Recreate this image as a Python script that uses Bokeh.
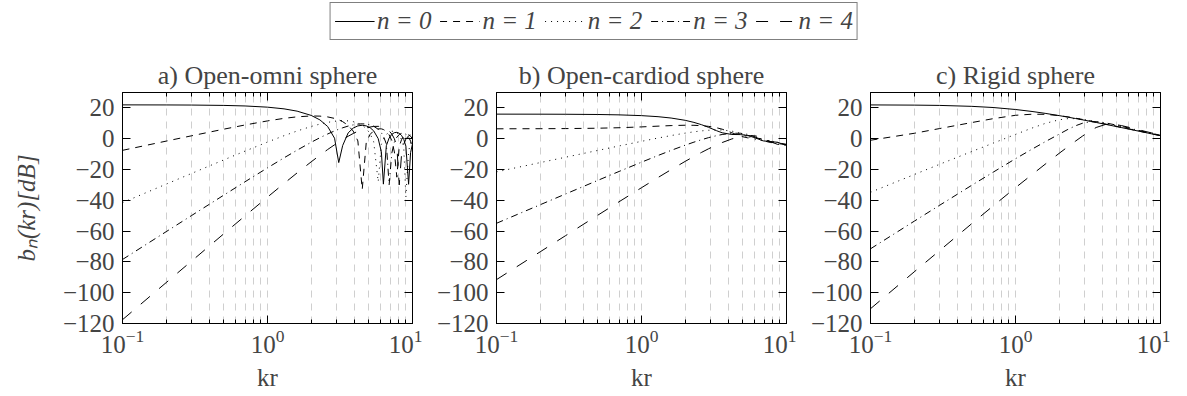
from bokeh.plotting import figure
from bokeh.models import LinearAxis, LogAxis, FixedTicker, Legend, LegendItem
from bokeh.layouts import column, row
from bokeh.embed import file_html
from bokeh.resources import INLINE

# ---------------- data ----------------
kr_a = [0.1, 0.2, 0.3, 0.5, 0.7, 1.0, 1.3, 1.6, 2.0, 2.3, 2.6, 2.9, 3.1, 3.3, 3.6, 3.9,
        4.2, 4.5, 4.8, 5.1, 5.4, 5.8, 6.1, 6.3, 6.6, 6.9, 7.2, 7.5, 7.8, 8.1, 8.4, 8.7,
        9.0, 9.4, 9.7, 10.0]
a_n0 = [21.97, 21.92, 21.85, 21.61, 21.26, 20.48, 19.38, 17.89, 15.13, 12.20, 7.92, 0.31,
        -15.5, -4.43, 3.77, 6.91, 8.32, 8.72, 8.32, 7.16, 5.09, 0.05, -8.52, -29.5, -4.54,
        0.45, 2.83, 3.92, 4.13, 3.54, 2.13, -0.38, -4.80, -29.6, -9.00, -3.31]
a_n1 = [-7.56, -1.57, 1.90, 6.20, 8.91, 11.56, 13.21, 14.21, 14.76, 14.66, 14.15, 13.18,
        12.26, 11.07, 8.63, 4.96, -1.46, -33.0, -2.25, 2.79, 5.15, 6.41, 6.39, 5.97, 4.70,
        2.49, -1.22, -8.61, -25.0, -4.98, -0.64, 1.52, 2.51, 2.54, 1.65, -0.13]
a_n2 = [-41.54, -29.5, -22.52, -13.74, -8.05, -2.17, 1.95, 5.01, 7.93, 9.50, 10.61, 11.33,
        11.60, 11.71, 11.58, 11.07, 10.13, 8.68, 6.54, 3.34, -2.02, -28.0, -3.73, -0.17,
        2.76, 4.26, 4.84, 4.71, 3.87, 2.25, -0.48, -5.25, -38.0, -8.08, -2.75, -0.18]
a_n3 = [-78.44, -60.38, -49.85, -36.62, -27.97, -18.93, -12.43, -7.45, -2.34, 0.65, 3.07,
        5.05, 6.15, 7.08, 8.20, 8.99, 9.47, 9.65, 9.50, 9.00, 8.11, 6.13, 3.82, 1.66, -3.38,
        -30.0, -9.27, -2.21, 0.99, 2.69, 3.47, 3.55, 2.97, 1.06, -1.58, -6.09]
a_n4 = [-117.53, -93.45, -79.4, -61.71, -50.12, -37.93, -29.08, -22.22, -15.04, -10.70,
        -7.03, -3.95, -2.15, -0.53, 1.60, 3.38, 4.86, 6.05, 6.96, 7.60, 7.97, 8.03, 7.72,
        7.33, 6.41, 5.03, 3.00, -0.04, -5.09, -30.0, -10.55, -3.55, -0.31, 1.84, 2.48, 2.45]

kr_bc = [0.1, 0.2, 0.3, 0.5, 0.7, 1.0, 1.3, 1.6, 2.0, 2.3, 2.6, 2.9, 3.3, 3.6, 4.2, 4.8,
         5.4, 6.1, 6.9, 7.8, 8.7, 10.0]
b_n0 = [15.95, 15.92, 15.87, 15.72, 15.48, 14.98, 14.30, 13.42, 11.94, 10.59, 9.06, 7.38,
        5.17, 3.84, 2.74, 2.67, 2.11, 0.51, -1.42, -1.87, -2.34, -4.44]
b_n1 = [6.43, 6.49, 6.57, 6.81, 7.13, 7.66, 8.15, 8.51, 8.75, 8.70, 8.46, 8.01, 7.09, 6.17,
        3.88, 1.63, 0.56, 0.46, -0.17, -2.04, -3.27, -3.60]
b_n2 = [-21.54, -15.53, -12.01, -7.60, -4.72, -1.71, 0.43, 2.04, 3.62, 4.47, 5.09, 5.48,
        5.70, 5.63, 4.92, 3.48, 1.53, -0.53, -1.17, -1.31, -2.59, -4.45]
b_n3 = [-54.92, -42.89, -35.87, -27.04, -21.28, -15.25, -10.91, -7.59, -4.22, -2.23, -0.62,
        0.68, 2.00, 2.72, 3.52, 3.54, 2.82, 1.14, -1.28, -2.54, -2.43, -3.89]
b_n4 = [-91.51, -73.46, -62.91, -49.65, -40.96, -31.83, -25.21, -20.09, -14.74, -11.52,
        -8.85, -6.55, -4.03, -2.49, -0.15, 1.31, 1.99, 1.84, 0.50, -2.05, -3.71, -3.50]

c_n0 = [21.94, 21.81, 21.61, 21.01, 20.25, 18.97, 17.68, 16.47, 14.99, 13.99, 13.08, 12.24,
        11.23, 10.53, 9.28, 8.17, 7.19, 6.16, 5.11, 4.07, 3.13, 1.94]
c_n1 = [-1.0, 3.5, 6.6, 10.5, 13.0, 15.2, 15.9, 15.83, 14.99, 14.17, 13.32, 12.50, 11.47,
        10.76, 9.46, 8.33, 7.32, 6.27, 5.20, 4.14, 3.19, 1.98]
c_n2 = [-34.8, -23.3, -16.6, -8.3, -2.9, 2.8, 6.9, 9.9, 12.29, 13.02, 13.03, 12.63, 11.81,
        11.14, 9.83, 8.64, 7.58, 6.48, 5.37, 4.27, 3.30, 2.07]
c_n3 = [-71.5, -53.6, -43.2, -30.2, -21.8, -13.0, -6.8, -2.0, 2.95, 6.05, 8.44, 10.05, 11.00,
        11.03, 10.23, 9.11, 8.00, 6.83, 5.65, 4.49, 3.48, 2.20]
c_n4 = [-110.4, -86.5, -72.6, -55.1, -43.7, -31.8, -23.3, -16.6, -9.5, -5.2, -1.5, 1.72, 5.27,
        7.28, 9.34, 9.33, 8.49, 7.31, 6.05, 4.81, 3.73, 2.39]

titles = ["a) Open-omni sphere", "b) Open-cardiod sphere", "c) Rigid sphere"]
legend_labels = ["n = 0", "n = 1", "n = 2", "n = 3", "n = 4"]
y_ticks = [-120, -100, -80, -60, -40, -20, 0, 20]
x_major = [0.1, 1.0, 10.0]
x_minor = [0.2, 0.3, 0.4, 0.5, 0.6, 0.7, 0.8, 0.9, 2, 3, 4, 5, 6, 7, 8, 9]

# ---------------- style ----------------
FONT = "Liberation Serif"
FS = "25px"
DASHES = ["solid", "7 6", "1 5", "7 4 1 4", "12 12"]
GRID = "#cfcfcf"


def xticker():
    return FixedTicker(ticks=x_major, minor_ticks=x_minor)


def make_panel(kr, series, title, left, ylabel):
    p = figure(x_axis_type="log", x_range=(0.1, 10), y_range=(-120, 30),
               frame_width=290, frame_height=231,
               min_border_left=left, min_border_right=10,
               min_border_top=44, min_border_bottom=65,
               output_backend="svg", toolbar_location=None, title=title)
    p.title.align = "center"
    p.title.text_font = FONT
    p.title.text_font_size = "26px"
    p.title.text_font_style = "normal"
    p.title.standoff = 6
    p.outline_line_color = "black"
    p.outline_line_width = 1

    xa = p.xaxis[0]
    xa.ticker = xticker()
    xa.major_tick_in = 8
    xa.major_tick_out = 0
    xa.minor_tick_in = 4
    xa.minor_tick_out = 0
    xa.major_label_text_font = FONT
    xa.major_label_text_font_size = FS
    xa.major_label_standoff = 6
    xa.axis_label = "kr"
    xa.axis_label_text_font = FONT
    xa.axis_label_text_font_size = FS
    xa.axis_label_text_font_style = "normal"
    xa.axis_label_standoff = 8

    ya = p.yaxis[0]
    ya.ticker = y_ticks
    ya.major_tick_in = 8
    ya.major_tick_out = 0
    ya.minor_tick_in = 0
    ya.minor_tick_out = 0
    ya.major_label_text_font = FONT
    ya.major_label_text_font_size = FS
    ya.major_label_standoff = 8
    if ylabel:
        ya.axis_label = ylabel
        ya.axis_label_text_font = FONT
        ya.axis_label_text_font_size = FS
        ya.axis_label_text_font_style = "italic"
        ya.axis_label_standoff = 20

    ra = LinearAxis(ticker=y_ticks, major_tick_in=8, major_tick_out=0,
                    minor_tick_in=0, minor_tick_out=0, major_label_standoff=0,
                    major_label_text_font_size="0px", major_label_text_color=None)
    p.add_layout(ra, "right")
    ta = LogAxis(ticker=xticker(), major_tick_in=8, major_tick_out=0,
                 minor_tick_in=4, minor_tick_out=0, major_label_standoff=0,
                 major_label_text_font_size="0px", major_label_text_color=None)
    p.add_layout(ta, "above")

    p.ygrid.visible = False
    p.xgrid.ticker = xticker()
    p.xgrid.grid_line_color = GRID
    p.xgrid.grid_line_dash = "7 6"
    p.xgrid.minor_grid_line_color = GRID
    p.xgrid.minor_grid_line_dash = "7 6"

    for vals, dash in zip(series, DASHES):
        p.line(kr, vals, line_color="black", line_width=1, line_dash=dash)
    return p


pa = make_panel(kr_a, [a_n0, a_n1, a_n2, a_n3, a_n4], titles[0], 122, "bₙ(kr)[dB]")
pb = make_panel(kr_bc, [b_n0, b_n1, b_n2, b_n3, b_n4], titles[1], 74, None)
pc = make_panel(kr_bc, [c_n0, c_n1, c_n2, c_n3, c_n4], titles[2], 74, None)

lf = figure(width=1187, height=48, x_range=(0, 1), y_range=(0, 1), min_border=0,
            output_backend="svg", toolbar_location=None)
lf.axis.visible = False
lf.grid.visible = False
lf.outline_line_color = None
rs = [lf.line([-5, -4], [-5, -4], line_color="black", line_width=1, line_dash=d)
      for d in DASHES]
leg = Legend(items=[LegendItem(label=l, renderers=[r]) for l, r in zip(legend_labels, rs)],
             orientation="horizontal", location="top_center")
leg.label_text_font = FONT
leg.label_text_font_size = FS
leg.label_text_font_style = "italic"
leg.glyph_width = 40
leg.label_standoff = 3
leg.spacing = 8
leg.padding = 4
leg.margin = 2
leg.border_line_color = "black"
leg.border_line_width = 1
leg.background_fill_alpha = 0
lf.add_layout(leg, "center")

layout = column(lf, row(pa, pb, pc))
open("out.html", "w").write(file_html(layout, INLINE))
